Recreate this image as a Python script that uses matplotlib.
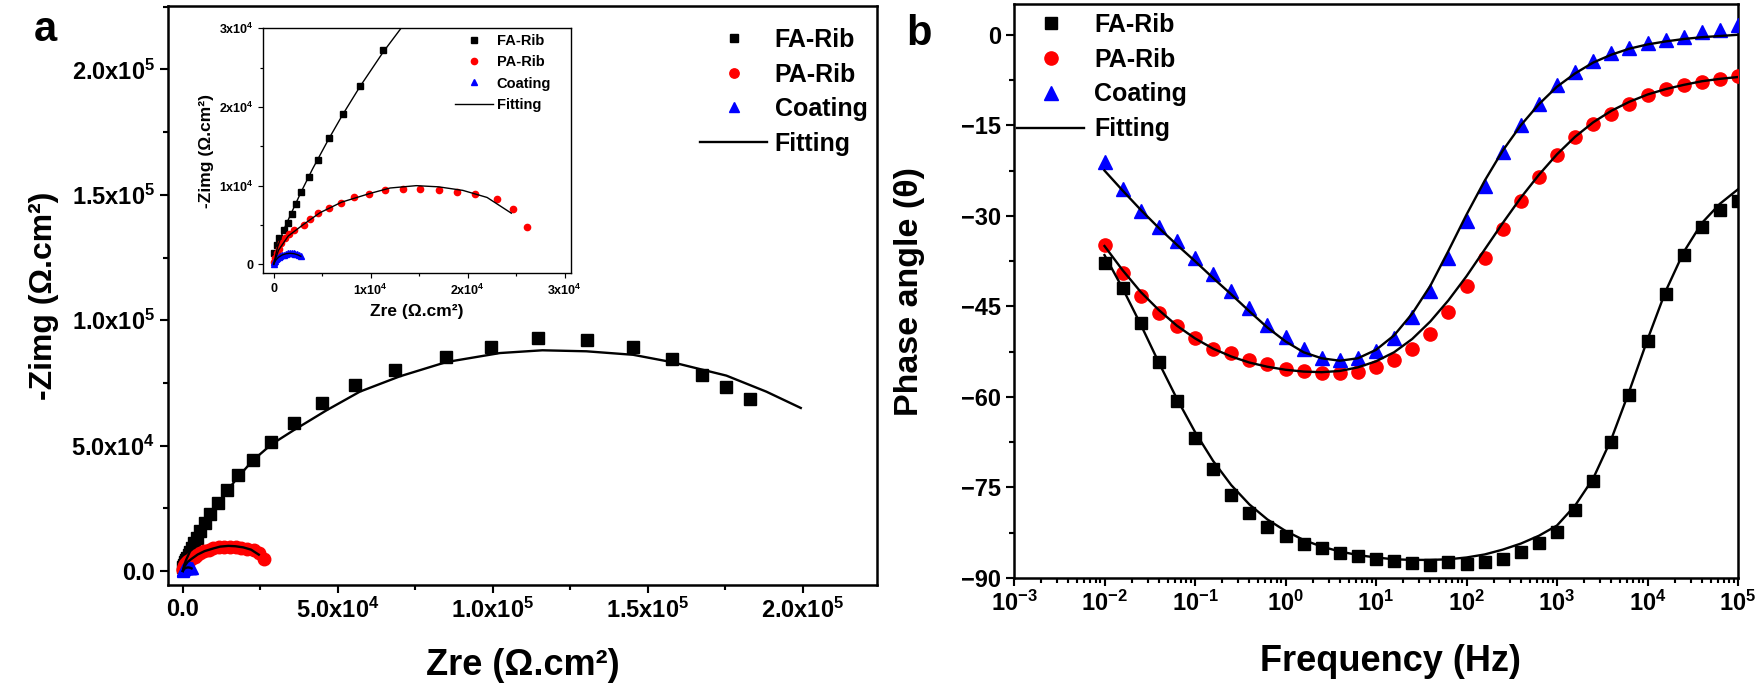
import matplotlib
matplotlib.use('Agg')
import matplotlib.pyplot as plt
import numpy as np
from matplotlib.ticker import MultipleLocator, FixedLocator, FixedFormatter, LogLocator, NullFormatter

plt.rcParams['font.family'] = ['Liberation Sans', 'DejaVu Sans']
plt.rcParams['font.weight'] = 'bold'
plt.rcParams['mathtext.fontset'] = 'custom'
plt.rcParams['mathtext.rm'] = 'Liberation Sans:bold'
plt.rcParams['mathtext.bf'] = 'Liberation Sans:bold'
plt.rcParams['mathtext.it'] = 'Liberation Sans:bold:italic'
plt.rcParams['mathtext.default'] = 'rm'

# ---------------- Nyquist data (ohm.cm^2) ----------------
FA_ZRE = [70, 310, 590, 1030, 1450, 1900, 2310, 2830, 3660, 4550, 5660, 7100, 8900, 11300,
          14100, 17800, 22500, 28600, 35900, 44900, 55500, 68600, 85000, 99500, 114600,
          130500, 145300, 157700, 167400, 175400, 183000]
FA_ZIM = [1400, 2500, 3400, 4300, 5200, 6400, 7700, 9200, 11100, 13300, 16000, 19100, 22700, 27300,
          32200, 38100, 44400, 51500, 58900, 66800, 74300, 80300, 85500, 89200, 93000,
          92100, 89400, 84700, 78300, 73200, 68400]
PA_ZRE = [50, 150, 300, 500, 800, 1200, 1600, 2140, 3100, 3790, 4620, 5660, 6950, 8300, 9800,
          11500, 13300, 15100, 17050, 18900, 20800, 23000, 24700, 26100]
PA_ZIM = [300, 800, 1400, 2000, 2700, 3400, 3900, 4400, 5000, 5700, 6500, 7200, 7850, 8500, 9000,
          9400, 9550, 9600, 9450, 9250, 8900, 8300, 7000, 4700]
CO_ZRE = [20, 80, 150, 250, 380, 520, 680, 860, 1050, 1250, 1450, 1650, 1850, 2050, 2250, 2450, 2650, 2800]
CO_ZIM = [100, 300, 450, 620, 780, 920, 1040, 1150, 1240, 1320, 1380, 1410, 1420, 1400, 1360, 1280, 1150, 1000]

FA_FIT_ZRE = [0, 400, 1000, 2000, 2830, 4000, 5660, 7100, 8900, 11300, 14100, 17500, 22500, 28600,
              35600, 46400, 57100, 70000, 85000, 102300, 116000, 130200, 145300, 157700, 175400,
              188300, 199400]
FA_FIT_ZIM = [0, 2200, 4300, 7000, 9200, 12100, 15900, 19000, 22600, 27000, 31600, 37000, 44000, 50500,
              56000, 64100, 71500, 77600, 83300, 86900, 88000, 87600, 86200, 83300, 77900,
              71500, 65000]
PA_FIT_ZRE = [0, 500, 1500, 3000, 4770, 7000, 9900, 12000, 14700, 17000, 19500, 22000, 24500]
PA_FIT_ZIM = [0, 1800, 3600, 5000, 6560, 7900, 9000, 9700, 10000, 9850, 9400, 8500, 6500]
CO_FIT_ZRE = [0, 200, 500, 900, 1300, 1700, 2100, 2500, 2800]
CO_FIT_ZIM = [0, 500, 900, 1200, 1350, 1400, 1350, 1200, 1020]

A_TICKS = [0, 50000, 100000, 150000, 200000]
A_TICKLABELS = ['0.0', '5.0x10$^{4}$', '1.0x10$^{5}$', '1.5x10$^{5}$', '2.0x10$^{5}$']
INSET_TICKS = [0, 10000, 20000, 30000]
INSET_TICKLABELS = ['0', '1x10$^{4}$', '2x10$^{4}$', '3x10$^{4}$']

# ---------------- Bode phase data ----------------
LOG_FREQ = [-2.0, -1.8, -1.6, -1.4, -1.2, -1.0, -0.8, -0.6, -0.4, -0.2, 0.0, 0.2, 0.4, 0.6, 0.8,
            1.0, 1.2, 1.4, 1.6, 1.8, 2.0, 2.2, 2.4, 2.6, 2.8, 3.0, 3.2, 3.4, 3.6, 3.8, 4.0, 4.2,
            4.4, 4.6, 4.8, 5.0]
FA_PHASE = [-37.8, -41.9, -47.7, -54.2, -60.6, -66.8, -72.0, -76.2, -79.2, -81.5, -83.0, -84.3,
            -85.1, -85.8, -86.3, -86.9, -87.2, -87.5, -87.8, -87.3, -87.6, -87.3, -86.8, -85.7,
            -84.2, -82.3, -78.7, -74.0, -67.5, -59.6, -50.7, -42.9, -36.5, -31.9, -29.0, -27.5]
PA_PHASE = [-34.9, -39.4, -43.2, -46.1, -48.2, -50.2, -52.0, -52.8, -53.9, -54.5, -55.3, -55.7,
            -56.0, -56.1, -55.8, -55.0, -53.9, -52.0, -49.6, -45.9, -41.7, -36.9, -32.1, -27.5,
            -23.6, -20.0, -16.9, -14.7, -13.1, -11.4, -10.0, -8.9, -8.3, -7.8, -7.4, -6.8]
CO_PHASE = [-21.1, -25.6, -29.2, -31.9, -34.2, -36.9, -39.7, -42.5, -45.2, -48.1, -50.1, -52.0,
            -53.5, -53.9, -53.6, -52.4, -50.3, -46.8, -42.5, -36.9, -30.8, -25.0, -19.4, -15.0,
            -11.4, -8.3, -6.1, -4.4, -3.1, -2.2, -1.4, -0.8, -0.3, 0.4, 0.8, 1.7]
FA_PHASE_FIT = [-36.5, -42.0, -48.0, -54.3, -60.3, -65.8, -70.6, -74.6, -77.8, -80.3, -82.2, -83.7,
                -84.8, -85.6, -86.2, -86.6, -86.9, -87.0, -87.0, -86.9, -86.6, -86.1, -85.3, -84.3,
                -83.0, -81.3, -78.0, -73.5, -67.0, -59.0, -50.5, -42.5, -36.0, -31.2, -28.0, -25.6]
PA_PHASE_FIT = [-35.0, -39.0, -42.6, -45.6, -48.2, -50.3, -52.0, -53.3, -54.3, -55.0, -55.5, -55.8,
                -55.9, -55.7, -55.1, -54.1, -52.6, -50.4, -47.5, -44.0, -40.0, -35.6, -31.2, -27.0,
                -23.2, -19.8, -16.9, -14.5, -12.6, -11.1, -9.9, -9.0, -8.3, -7.7, -7.3, -7.0]
CO_PHASE_FIT = [-22.5, -25.8, -29.0, -32.0, -34.8, -37.5, -40.3, -43.0, -45.8, -48.5, -50.8, -52.6,
                -53.6, -54.0, -53.6, -52.2, -49.8, -46.2, -41.6, -35.8, -29.8, -24.2, -19.2, -15.0,
                -11.5, -8.6, -6.4, -4.6, -3.3, -2.3, -1.6, -1.1, -0.7, -0.4, -0.2, 0.0]
B_YTICKS = [0, -15, -30, -45, -60, -75, -90]
B_XTICKS = [1e-3, 1e-2, 1e-1, 1e0, 1e1, 1e2, 1e3, 1e4, 1e5]
B_XTICKLABELS = ['10$^{-3}$', '10$^{-2}$', '10$^{-1}$', '10$^{0}$', '10$^{1}$', '10$^{2}$',
                 '10$^{3}$', '10$^{4}$', '10$^{5}$']

RED = '#ff0000'
BLUE = '#0000ff'
W, H = 1757, 685
fig = plt.figure(figsize=(W / 100, H / 100), dpi=100)


def box(l, t, r, b):
    return [l / W, 1 - b / H, (r - l) / W, (b - t) / H]


def style(ax, lw=1.8, tl=6, fs=17, minl=3.5):
    for s in ax.spines.values():
        s.set_linewidth(lw)
    ax.tick_params(which='major', direction='out', length=tl, width=lw * 0.85, labelsize=fs,
                   top=False, right=False)
    ax.tick_params(which='minor', direction='out', length=minl, width=lw * 0.85,
                   top=False, right=False)


axA = fig.add_axes(box(168, 6, 877, 585))
axB = fig.add_axes(box(1014, 4, 1738, 578))
axI = fig.add_axes(box(263, 28.3, 571, 273.3))

# ---- Panel a main ----
axA.plot(FA_ZRE, FA_ZIM, 's', color='black', ms=8.5, label='FA-Rib', zorder=3)
axA.plot(PA_ZRE, PA_ZIM, 'o', color=RED, ms=9, label='PA-Rib', zorder=3)
axA.plot(CO_ZRE, CO_ZIM, '^', color=BLUE, ms=9, label='Coating', zorder=3)
axA.plot(FA_FIT_ZRE, FA_FIT_ZIM, '-', color='black', lw=1.7, label='Fitting', zorder=4)
axA.plot(PA_FIT_ZRE, PA_FIT_ZIM, '-', color='black', lw=1.7, zorder=4)
axA.plot(CO_FIT_ZRE, CO_FIT_ZIM, '-', color='black', lw=1.7, zorder=4)
axA.set_xlim(-4800, 224000)
axA.set_ylim(-5600, 225300)
axA.xaxis.set_major_locator(FixedLocator(A_TICKS))
axA.xaxis.set_major_formatter(FixedFormatter(A_TICKLABELS))
axA.yaxis.set_major_locator(FixedLocator(A_TICKS))
axA.yaxis.set_major_formatter(FixedFormatter(A_TICKLABELS))
axA.xaxis.set_minor_locator(MultipleLocator(25000))
axA.yaxis.set_minor_locator(MultipleLocator(25000))
style(axA)
axA.set_xlabel('Zre (Ω.cm²)', fontsize=26, fontweight='bold', labelpad=18)
axA.set_ylabel('-Zimg (Ω.cm²)', fontsize=23, fontweight='bold', labelpad=9)
axA.legend(loc='upper left', bbox_to_anchor=(700 / W, 1 - 28 / H),
           bbox_transform=fig.transFigure, frameon=False, fontsize=18,
           handlelength=2.68, handletextpad=0.3, labelspacing=0.42,
           borderpad=0, borderaxespad=0, markerscale=0.75)

# ---- Inset ----
axI.plot(FA_ZRE, FA_ZIM, 's', color='black', ms=4.5, label='FA-Rib', zorder=3)
axI.plot(PA_ZRE, PA_ZIM, 'o', color=RED, ms=4.5, label='PA-Rib', zorder=3)
axI.plot(CO_ZRE, CO_ZIM, '^', color=BLUE, ms=4.5, label='Coating', zorder=3)
axI.plot(FA_FIT_ZRE, FA_FIT_ZIM, '-', color='black', lw=1.0, label='Fitting', zorder=4)
axI.plot(PA_FIT_ZRE, PA_FIT_ZIM, '-', color='black', lw=1.0, zorder=4)
axI.plot(CO_FIT_ZRE, CO_FIT_ZIM, '-', color='black', lw=1.0, zorder=4)
axI.set_xlim(-1100, 30650)
axI.set_ylim(-1140, 30000)
axI.xaxis.set_major_locator(FixedLocator(INSET_TICKS))
axI.xaxis.set_major_formatter(FixedFormatter(INSET_TICKLABELS))
axI.yaxis.set_major_locator(FixedLocator(INSET_TICKS))
axI.yaxis.set_major_formatter(FixedFormatter(INSET_TICKLABELS))
axI.xaxis.set_minor_locator(MultipleLocator(5000))
axI.yaxis.set_minor_locator(MultipleLocator(5000))
style(axI, lw=1.0, tl=3.5, fs=9, minl=2)
axI.set_xlabel('Zre (Ω.cm²)', fontsize=12.5, fontweight='bold', labelpad=4)
axI.set_ylabel('-Zimg (Ω.cm²)', fontsize=12.5, fontweight='bold', labelpad=3)
axI.legend(loc='upper left', bbox_to_anchor=(455 / W, 1 - 34 / H),
           bbox_transform=fig.transFigure, frameon=False, fontsize=10.5,
           handlelength=2.6, handletextpad=0.25, labelspacing=0.5,
           borderpad=0, borderaxespad=0)

# ---- Panel b ----
freq = 10.0 ** np.array(LOG_FREQ)
axB.plot(freq, FA_PHASE, 's', color='black', ms=8.5, label='FA-Rib', zorder=3)
axB.plot(freq, PA_PHASE, 'o', color=RED, ms=9.5, label='PA-Rib', zorder=3)
axB.plot(freq, CO_PHASE, '^', color=BLUE, ms=9.5, label='Coating', zorder=3)
axB.plot(freq, FA_PHASE_FIT, '-', color='black', lw=1.7, label='Fitting', zorder=4)
axB.plot(freq, PA_PHASE_FIT, '-', color='black', lw=1.7, zorder=4)
axB.plot(freq, CO_PHASE_FIT, '-', color='black', lw=1.7, zorder=4)
axB.set_xscale('log')
axB.set_xlim(1e-3, 1e5)
axB.set_ylim(-90, 5.1)
axB.yaxis.set_major_locator(FixedLocator(B_YTICKS))
axB.yaxis.set_minor_locator(MultipleLocator(7.5))
axB.xaxis.set_major_locator(FixedLocator(B_XTICKS))
axB.xaxis.set_major_formatter(FixedFormatter(B_XTICKLABELS))
axB.xaxis.set_minor_locator(LogLocator(base=10, subs=np.arange(2, 10), numticks=20))
axB.xaxis.set_minor_formatter(NullFormatter())
style(axB)
axB.set_xlabel('Frequency (Hz)', fontsize=26, fontweight='bold', labelpad=15)
axB.xaxis.set_label_coords(0.52, -0.115)
axB.set_ylabel('Phase angle (θ)', fontsize=24.5, fontweight='bold', labelpad=26)
axB.legend(loc='upper left', bbox_to_anchor=(1017 / W, 1 - 13 / H),
           bbox_transform=fig.transFigure, frameon=False, fontsize=18,
           handlelength=2.68, handletextpad=0.4, labelspacing=0.43,
           borderpad=0, borderaxespad=0)

fig.text(45 / W, 1 - 30 / H, 'a', fontsize=30, fontweight='bold', ha='center', va='center')
fig.text(919 / W, 1 - 34 / H, 'b', fontsize=30, fontweight='bold', ha='center', va='center')

fig.savefig('out.png', dpi=100)
